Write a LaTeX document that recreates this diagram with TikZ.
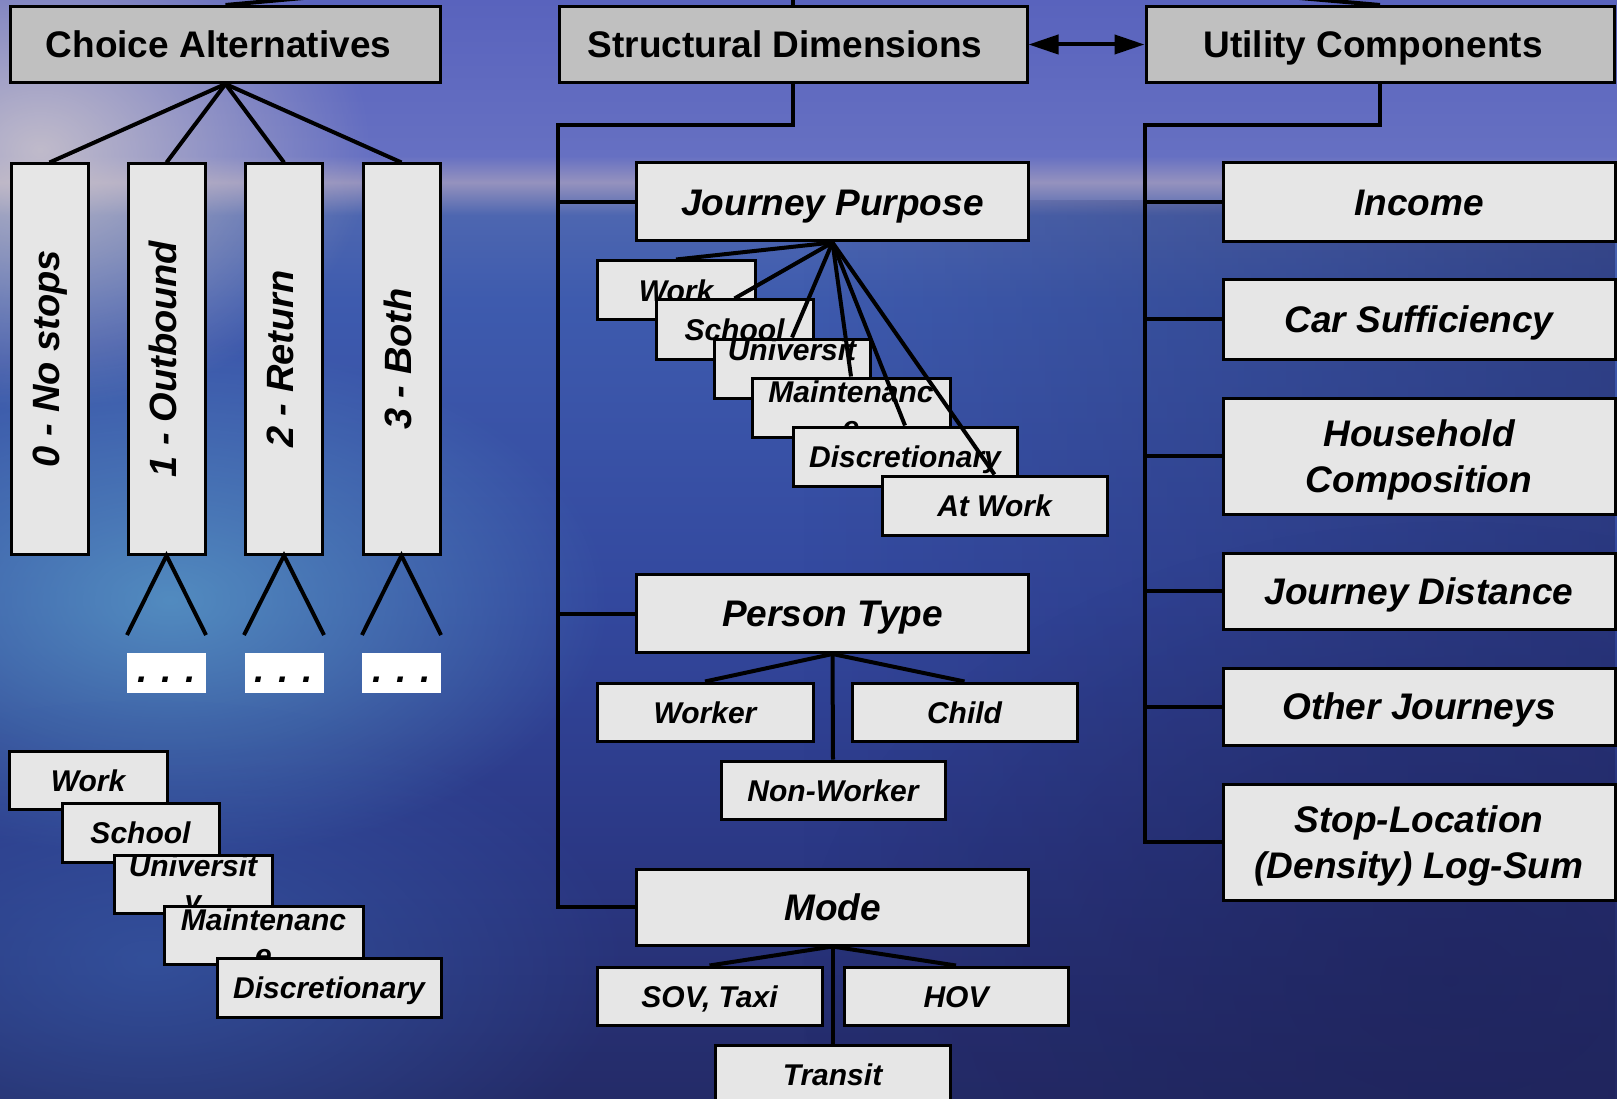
\documentclass[tikz,border=0pt]{standalone}
\usepackage{fontspec}
\setmainfont{Liberation Sans}
\usepackage{graphicx}
\usetikzlibrary{arrows.meta,fadings}

\definecolor{hdrfill}{HTML}{C0C0C0}
\definecolor{boxfill}{HTML}{E6E6E6}
% sea and sky colours, bottom to top
\definecolor{seaA}{HTML}{242B68}
\definecolor{seaB}{HTML}{2B3885}
\definecolor{seaC}{HTML}{33489E}
\definecolor{seaD}{HTML}{3E5BAE}
\definecolor{seaE}{HTML}{4D66B0}
\definecolor{horizon}{HTML}{9592BE}
\definecolor{skyA}{HTML}{6670C2}
\definecolor{skyB}{HTML}{5963BD}
\definecolor{haze}{HTML}{D0C8CC}
\definecolor{shallow}{HTML}{5A9CC8}
\definecolor{midwater}{HTML}{3A62B0}
\definecolor{deepwater}{HTML}{1E2258}

\pgfdeclareverticalshading{seabg}{100bp}{color(0bp)=(seaA); color(25bp)=(seaA);
  color(36.3bp)=(seaB); color(47.7bp)=(seaC); color(61.4bp)=(seaD);
  color(65.2bp)=(seaE); color(66.7bp)=(horizon); color(67.9bp)=(skyA);
  color(75bp)=(skyB); color(100bp)=(skyB)}
\tikzfading[name=glow, inner color=transparent!0, outer color=transparent!100]
\tikzfading[name=toright, left color=transparent!100, right color=transparent!0]

\tikzset{
  conn/.style={draw=black, line width=4pt},
  wh/.style 2 args={minimum width=#1pt, minimum height=#2pt},
  hdr/.style={draw=black, line width=3pt, fill=hdrfill, inner sep=0pt,
    font=\fontsize{37}{44}\selectfont\bfseries, text height=30.6pt, text depth=3.8pt},
  big/.style={draw=black, line width=3pt, fill=boxfill, inner sep=0pt,
    font=\fontsize{37}{46}\selectfont\bfseries\itshape, text height=30.6pt, text depth=3.8pt},
  bigbox/.style={draw=black, line width=3pt, fill=boxfill, inner sep=0pt},
  bigtext/.style={inner sep=0pt, font=\fontsize{37}{46}\selectfont\bfseries\itshape, align=center},
  small/.style={draw=black, line width=3pt, fill=boxfill, inner sep=0pt,
    font=\fontsize{30}{35}\selectfont\bfseries\itshape, text height=25pt, text depth=2.8pt},
  smalltext/.style={inner sep=0pt, font=\fontsize{30}{35}\selectfont\bfseries\itshape, align=center},
  alt/.style={draw=black, line width=3pt, fill=boxfill, inner sep=0pt,
    font=\fontsize{38}{44}\selectfont\bfseries\itshape},
  dotbox/.style={fill=white, inner sep=0pt,
    font=\fontsize{37}{44}\selectfont\bfseries\itshape, text height=26.6pt, text depth=7.8pt},
  dblarrow/.style={<->, >={Triangle[length=30pt,width=19pt]}},
}

\begin{document}
\begin{tikzpicture}[x=1pt, y=-1pt]
\useasboundingbox (0,0) rectangle (1617,1099);
\clip (0,0) rectangle (1617,1099);

% ---- backdrop: sky, horizon and sea ----
\shade[shading=seabg] (0,0) rectangle (1617,1099);
\fill[haze, path fading=glow, fill opacity=0.85] (40,150) ellipse [x radius=330pt, y radius=260pt];
\fill[shallow, path fading=glow, fill opacity=0.8] (170,600) ellipse [x radius=440pt, y radius=260pt];
\fill[midwater, path fading=glow, fill opacity=0.6] (150,960) ellipse [x radius=480pt, y radius=260pt];
\fill[deepwater, path fading=toright, fill opacity=0.45] (800,200) rectangle (1617,1099);
\fill[deepwater, path fading=glow, fill opacity=0.45] (1450,980) ellipse [x radius=650pt, y radius=460pt];

% ---- top row ----
\node[hdr, wh={430}{76}] (CA) at (225.5,44.5) {Choice Alternatives\hspace*{14pt}};
\node[hdr, wh={468}{76}] (SD) at (793,44.5) {Structural Dimensions\hspace*{16pt}};
\node[hdr, wh={468}{76}] (UC) at (1380,44.5) {Utility Components\hspace*{14pt}};
\coordinate (root) at (793,-46);

% ---- choice alternatives ----
\node[alt, wh={77}{390}] (A0) at (49.5,359) {\rotatebox{90}{\vrule width 0pt height 27.3pt depth 8pt\relax 0 - No stops}};
\node[alt, wh={77}{390}] (A1) at (166.5,359) {\rotatebox{90}{\vrule width 0pt height 27.3pt depth 8pt\relax 1 - Outbound}};
\node[alt, wh={77}{390}] (A2) at (284,359) {\rotatebox{90}{\vrule width 0pt height 27.3pt depth 8pt\relax 2 - Return}};
\node[alt, wh={77}{390}] (A3) at (401.5,359) {\rotatebox{90}{\vrule width 0pt height 27.3pt depth 8pt\relax 3 - Both}};

\node[dotbox, wh={79}{40}] (D1) at (166.5,673) {. . .};
\node[dotbox, wh={79}{40}] (D2) at (284,673) {. . .};
\node[dotbox, wh={79}{40}] (D3) at (401.5,673) {. . .};
\coordinate (A1l) at (127,635); \coordinate (A1r) at (206,635);
\coordinate (A2l) at (244,635); \coordinate (A2r) at (324,635);
\coordinate (A3l) at (362,635); \coordinate (A3r) at (441,635);

% ---- purposes under the alternatives ----
\node[small, wh={158}{58}] (LW) at (88,780) {Work};
\node[small, wh={157}{59}] (LS) at (140.5,832.5) {School};
\node[small, wh={158}{58}] (LU) at (193,884) {};
\node[smalltext] (LUt) at ([yshift=-2pt]LU.center) {Universit\\y};
\node[small, wh={199}{58}] (LM) at (263.5,935) {};
\node[smalltext] (LMt) at ([yshift=-2pt]LM.center) {Maintenanc\\e};
\node[small, wh={224}{59}] (LD) at (329,987.5) {Discretionary};

% ---- structural dimensions ----
\node[big, wh={392}{78}] (JP) at (832.5,202) {Journey Purpose};
\node[small, wh={158}{59}] (JW) at (676,290.5) {Work};
\node[small, wh={157}{59}] (JS) at (734.5,329.5) {School};
\node[small, wh={156}{59}] (JU) at (792,368.5) {};
\node[smalltext] (JUt) at ([yshift=-2pt]JU.center) {Universit\\y};
\node[small, wh={198}{59}] (JM) at (851,407.5) {};
\node[smalltext] (JMt) at ([yshift=-2pt]JM.center) {Maintenanc\\e};
\node[small, wh={224}{59}] (JD) at (905,456.5) {Discretionary};
\node[small, wh={225}{59}] (JA) at (994.5,505.5) {At Work};

\node[big, wh={392}{78}] (PT) at (832.5,613.5) {Person Type};
\node[small, wh={216}{58}] (PW) at (705,712) {Worker};
\node[small, wh={225}{58}] (PC) at (964.5,712) {Child};
\node[small, wh={224}{58}] (PN) at (833,790) {Non-Worker};

\node[big, wh={392}{76}] (MO) at (832.5,907) {Mode};
\node[small, wh={225}{58}] (MS) at (709.5,996) {SOV, Taxi};
\node[small, wh={224}{58}] (MH) at (956,996) {HOV};
\node[small, wh={235}{58}] (MT) at (832.5,1074) {Transit};

% ---- utility components ----
\node[big, wh={392}{79}] (RI) at (1419,202.5) {Income};
\node[big, wh={392}{79}] (RC) at (1419,319.5) {Car Sufficiency};
\node[bigbox, wh={392}{116}] (RH) at (1419,456) {};
\node[bigtext] (RHt) at ([yshift=-4pt]RH.center) {Household\\Composition};
\node[big, wh={392}{76}] (RJ) at (1419,591) {Journey Distance};
\node[big, wh={392}{77}] (RO) at (1419,706.5) {Other Journeys};
\node[bigbox, wh={392}{116}] (RS) at (1419,842) {};
\node[bigtext] (RSt) at ([yshift=-4pt]RS.center) {Stop-Location\\(Density) Log-Sum};

% ---- connectors ----
\draw[conn] (CA.north) -- (root);
\draw[conn] (SD.north) -- (root);
\draw[conn] (UC.north) -- (root);
\draw[conn, dblarrow] (SD.east) -- (UC.west);

\foreach \k in {A0,A1,A2,A3} \draw[conn] (CA.south) -- (\k.north);
\foreach \k in {A1,A2,A3} {
  \draw[conn] (\k l) -- (\k.south) -- (\k r);
}

\coordinate (mb) at (558,125);
\draw[conn] (SD.south) |- (mb) -- (mb |- MO.west) -- (MO.west);
\draw[conn] (mb |- JP.west) -- (JP.west);
\draw[conn] (mb |- PT.west) -- (PT.west);

\coordinate (rb) at (1145,125);
\draw[conn] (UC.south) |- (rb) -- (rb |- RS.west) -- (RS.west);
\foreach \k in {RI,RC,RH,RJ,RO} \draw[conn] (rb |- \k.west) -- (\k.west);

\foreach \k in {JW,JS,JU,JM,JD,JA} \draw[conn] (JP.south) -- (\k.north);
\foreach \k in {PW,PC,PN} \draw[conn] (PT.south) -- (\k.north);
\foreach \k in {MS,MH,MT} \draw[conn] (MO.south) -- (\k.north);
\end{tikzpicture}
\end{document}
